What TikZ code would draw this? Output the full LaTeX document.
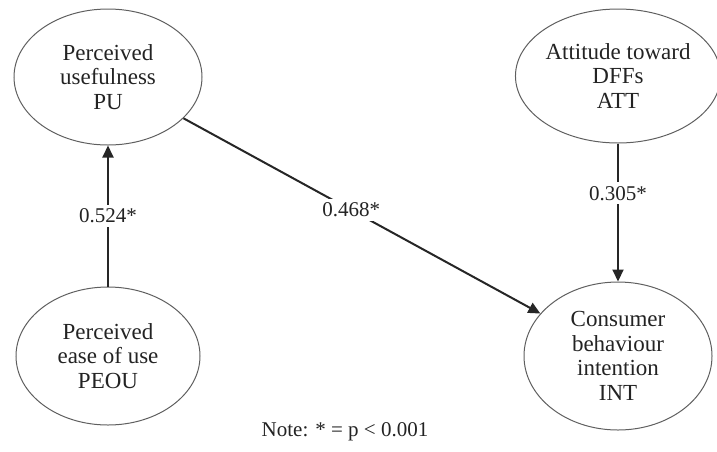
\documentclass[tikz,border=0pt]{standalone}
\usepackage{fontspec}
\setmainfont{Liberation Serif}
\usepackage{tikz}
\usetikzlibrary{shapes,arrows.meta,positioning}
\definecolor{outlinegray}{RGB}{95, 95, 95}
\definecolor{inkgray}{RGB}{35, 35, 35}

\begin{document}
\begin{tikzpicture}[x=1pt,y=-1pt,
    construct/.style={ellipse,draw=outlinegray,line width=1pt,inner sep=0pt,align=center,text=inkgray,font=\fontsize{23}{24.5}\selectfont},
    effect/.style={-{Triangle[length=12pt,width=11pt]},line width=2pt,black!85},
    coef/.style={fill=white,inner sep=4pt,text=inkgray,font=\fontsize{21}{24}\selectfont}]
    \useasboundingbox (0,0) rectangle (717,451);

    % Constructs
    \node[construct,minimum width=188pt,minimum height=136pt] (pu) at (108,77) {Perceived\\usefulness\\PU};
    \node[construct,minimum width=196pt,minimum height=134pt] (att) at (618,76) {Attitude toward\\DFFs\\ATT};
    \node[construct,minimum width=184pt,minimum height=138pt] (peou) at (108,356) {Perceived\\ease of use\\PEOU};
    \node[construct,minimum width=188pt,minimum height=148pt] (int) at (618,356) {Consumer\\behaviour\\intention\\INT};

    % Paths with coefficients
    \draw[effect] (peou) -- node[coef] {0.524*} (pu);
    \draw[effect] (pu) -- node[coef,pos=0.47] {0.468*} (int);
    \draw[effect] (att) -- node[coef,pos=0.36] {0.305*} (int);

    % Note
    \node[text=inkgray,font=\fontsize{21}{24}\selectfont] (note) at (345,432) {Note: * = p < 0.001};
\end{tikzpicture}
\end{document}
